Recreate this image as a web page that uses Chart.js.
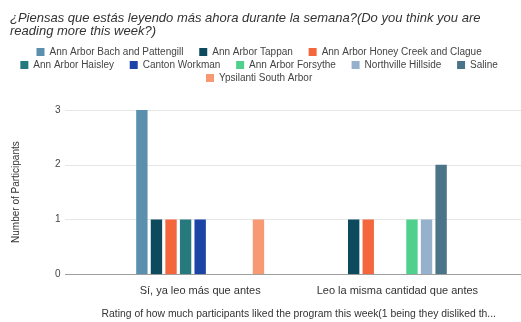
<!DOCTYPE html>
<html>
<head>
<meta charset="utf-8">
<script src="https://cdn.jsdelivr.net/npm/chart.js@4/dist/chart.umd.min.js"></script>
<style>
  html, body { margin: 0; padding: 0; background: #fff; }
  #wrap { width: 521px; height: 322px; position: relative; }
</style>
</head>
<body>
<div id="wrap"><canvas id="chart"></canvas></div>
<script>
// data
const categories = ['Sí, ya leo más que antes', 'Leo la misma cantidad que antes'];
const schools = [
  'Ann Arbor Bach and Pattengill', 'Ann Arbor Tappan', 'Ann Arbor Honey Creek and Clague',
  'Ann Arbor Haisley', 'Canton Workman', 'Ann Arbor Forsythe',
  'Northville Hillside', 'Saline', 'Ypsilanti South Arbor'
];
const colors = ['#5a8fae', '#0d4a5e', '#f4673c', '#267a7e', '#1c44a6', '#4fd08c', '#95b1cc', '#4b7489', '#f79a74'];
const counts = [
  [3, 0], // Bach and Pattengill
  [1, 1], // Tappan
  [1, 1], // Honey Creek and Clague
  [1, 0], // Haisley
  [1, 0], // Workman
  [0, 1], // Forsythe
  [0, 1], // Hillside
  [0, 2], // Saline
  [1, 0]  // South Arbor
];
const yTicks = [0, 1, 2, 3];

const FONT = '"Liberation Sans", Arial, sans-serif';

// horizontal grid lines that run the full width, like the sheets chart
const wideGrid = {
  id: 'wideGrid',
  beforeInit(chart) {
    // leave some air between the legend and the plot
    const fit = chart.legend.fit;
    chart.legend.fit = function () { fit.call(this); this.height += 17; };
  },
  beforeDatasetsDraw(chart) {
    const y = chart.scales.y;
    const c = chart.ctx;
    c.save();
    for (const v of yTicks) {
      const py = Math.round(y.getPixelForValue(v)) + 0.5;
      c.strokeStyle = v === 0 ? '#9e9e9e' : '#e6e6e6';
      c.lineWidth = 1;
      c.beginPath();
      c.moveTo(65, py);
      c.lineTo(chart.width, py);
      c.stroke();
    }
    c.restore();
  }
};

new Chart(document.getElementById('chart'), {
  type: 'bar',
  data: {
    labels: categories,
    datasets: schools.map((name, i) => ({
      label: name,
      data: counts[i],
      backgroundColor: colors[i],
      borderWidth: 0,
      barPercentage: 0.78,
      categoryPercentage: 0.665
    }))
  },
  options: {
    responsive: true,
    maintainAspectRatio: false,
    animation: false,
    layout: { padding: { left: 10, right: 0, top: 12, bottom: 2 } },
    plugins: {
      title: {
        display: true,
        align: 'start',
        text: ['¿Piensas que estás leyendo más ahora durante la semana?(Do you think you are',
               'reading more this week?)'],
        color: '#333',
        font: { family: FONT, size: 13, style: 'italic', weight: 'normal', lineHeight: 1.0 },
        padding: { top: 0, bottom: 6 }
      },
      legend: {
        position: 'top',
        labels: {
          boxWidth: 8,
          boxHeight: 8,
          padding: 3,
          color: '#444',
          font: { family: FONT, size: 10 },
          // extra gap after each entry, sheets spaces them wider than the rows
          generateLabels: chart => Chart.defaults.plugins.legend.labels.generateLabels(chart)
            .map(l => ({ ...l, text: l.text + '\u2003 ' }))
        }
      },
      tooltip: { enabled: false }
    },
    scales: {
      x: {
        grid: { display: false },
        border: { display: false },
        ticks: { color: '#333', font: { family: FONT, size: 11 }, padding: 2 },
        title: {
          display: true,
          text: 'Rating of how much participants liked the program this week(1 being they disliked th...',
          color: '#333',
          font: { family: FONT, size: 10.5 },
          padding: { top: 8, bottom: 0 }
        }
      },
      y: {
        min: 0,
        max: 3,
        afterBuildTicks: axis => { axis.ticks = yTicks.map(v => ({ value: v })); },
        grid: { display: false },
        border: { display: false },
        ticks: { color: '#444', font: { family: FONT, size: 10 }, padding: 33 },
        title: {
          display: true,
          text: 'Number of Participants',
          color: '#333',
          font: { family: FONT, size: 10 },
          padding: { top: 0, bottom: 0 }
        }
      },
      // empty right-hand strip so the plot stops short of the edge
      side: {
        position: 'right',
        grid: { display: false },
        border: { display: false },
        ticks: { display: false },
        afterFit: axis => { axis.width = 25; }
      }
    }
  },
  plugins: [wideGrid]
});
</script>
</body>
</html>
